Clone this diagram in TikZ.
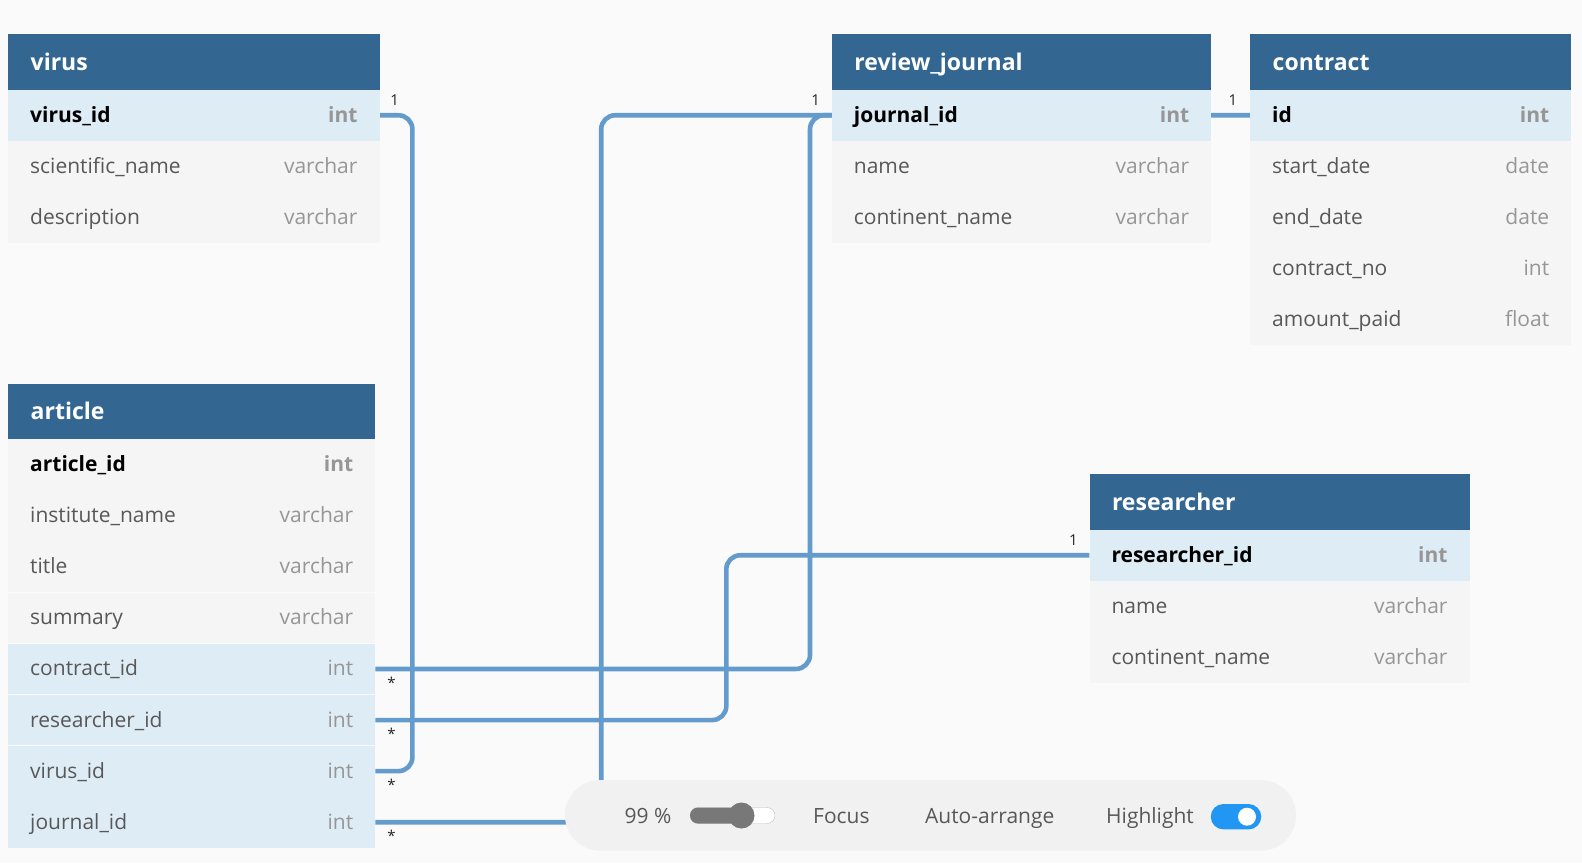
\documentclass[tikz,border=0pt]{standalone}
\usepackage{fontspec}
\setmainfont{Open Sans}
\usepackage{xcolor}
\usetikzlibrary{positioning,calc}

\definecolor{canvas}{RGB}{250,250,250}
\definecolor{headblue}{RGB}{51,103,145}
\definecolor{pkfill}{RGB}{222,236,245}
\definecolor{rowfill}{RGB}{245,245,245}
\definecolor{fieldgray}{RGB}{88,88,88}
\definecolor{typegray}{RGB}{150,150,150}
\definecolor{linkblue}{RGB}{99,156,204}
\definecolor{barfill}{RGB}{241,241,241}
\definecolor{knobgray}{RGB}{120,120,120}
\definecolor{toggleblue}{RGB}{33,150,243}

\pgfdeclarelayer{bg}
\pgfdeclarelayer{links}
\pgfsetlayers{bg,links,main}

\begin{document}
\begin{tikzpicture}[x=1pt,y=1pt,yscale=-1,xscale=1,
  head/.style={anchor=north west, fill=headblue, text=white, minimum height=55.3pt, inner xsep=22.5pt, inner ysep=0pt, text width=#1, text height=20pt, text depth=3.5pt, font=\fontsize{23}{26}\selectfont\bfseries},
  row/.style={anchor=north, fill=rowfill, text=fieldgray, minimum height=50.7pt, inner xsep=22pt, inner ysep=0pt, text width=#1, text height=18pt, text depth=4pt, font=\fontsize{21}{24}\selectfont},
  pkrow/.style={row=#1, fill=pkfill, text=black, font=\fontsize{21}{24}\selectfont\bfseries},
  keyrow/.style={row=#1, font=\fontsize{21}{24}\selectfont\bfseries, text=black},
  fkrow/.style={row=#1, fill=pkfill},
  link/.style={draw=linkblue, line width=4.6pt, rounded corners=14pt},
  card/.style={text=black!85, inner sep=0.75pt, font=\fontsize{15}{17}\selectfont},
  bartext/.style={text=fieldgray, inner sep=0.75pt, text height=17pt, text depth=3pt, font=\fontsize{21}{24}\selectfont}]
%set diagram to the size of the screenshot
\useasboundingbox (0,0) rectangle (1582,863);
\begin{pgfonlayer}{bg}
\fill[canvas] (0,0) rectangle (1582,863);
\end{pgfonlayer}

% virus
\node[head=326.3pt] (virus) at (8,34) {virus};
\node[pkrow=327.3pt, below=0pt of virus] (virus-id) {virus\_id\hfill\textcolor{typegray}{int}};
\node[row=327.3pt, below=0pt of virus-id] (virus-sci) {scientific\_name\hfill\textcolor{typegray}{varchar}};
\node[row=327.3pt, below=0pt of virus-sci] (virus-desc) {description\hfill\textcolor{typegray}{varchar}};

% review_journal
\node[head=334.3pt] (review) at (831.7,34) {review\_journal};
\node[pkrow=335.3pt, below=0pt of review] (review-id) {journal\_id\hfill\textcolor{typegray}{int}};
\node[row=335.3pt, below=0pt of review-id] (review-name) {name\hfill\textcolor{typegray}{varchar}};
\node[row=335.3pt, below=0pt of review-name] (review-cont) {continent\_name\hfill\textcolor{typegray}{varchar}};

% contract
\node[head=276pt] (contract) at (1250,34) {contract};
\node[pkrow=277pt, below=0pt of contract] (contract-id) {id\hfill\textcolor{typegray}{int}};
\node[row=277pt, below=0pt of contract-id] (contract-start) {start\_date\hfill\textcolor{typegray}{date}};
\node[row=277pt, below=0pt of contract-start] (contract-end) {end\_date\hfill\textcolor{typegray}{date}};
\node[row=277pt, below=0pt of contract-end] (contract-no) {contract\_no\hfill\textcolor{typegray}{int}};
\node[row=277pt, below=0pt of contract-no] (contract-paid) {amount\_paid\hfill\textcolor{typegray}{float}};

% article
\node[head=322pt] (article) at (8,383.3) {article};
\node[keyrow=323pt, below=0pt of article] (article-id) {article\_id\hfill\textcolor{typegray}{int}};
\node[row=323pt, below=0pt of article-id] (article-inst) {institute\_name\hfill\textcolor{typegray}{varchar}};
\node[row=323pt, below=0pt of article-inst] (article-title) {title\hfill\textcolor{typegray}{varchar}};
\node[row=323pt, below=0pt of article-title] (article-sum) {summary\hfill\textcolor{typegray}{varchar}};
\node[fkrow=323pt, below=0pt of article-sum] (article-contract) {contract\_id\hfill\textcolor{typegray}{int}};
\node[fkrow=323pt, below=0pt of article-contract] (article-res) {researcher\_id\hfill\textcolor{typegray}{int}};
\node[fkrow=323pt, below=0pt of article-res] (article-virus) {virus\_id\hfill\textcolor{typegray}{int}};
\node[fkrow=323pt, below=0pt of article-virus] (article-journal) {journal\_id\hfill\textcolor{typegray}{int}};

% researcher
\node[head=335pt] (researcher) at (1089.3,474) {researcher};
\node[pkrow=336pt, below=0pt of researcher] (researcher-id) {researcher\_id\hfill\textcolor{typegray}{int}};
\node[row=336pt, below=0pt of researcher-id] (researcher-name) {name\hfill\textcolor{typegray}{varchar}};
\node[row=336pt, below=0pt of researcher-name] (researcher-cont) {continent\_name\hfill\textcolor{typegray}{varchar}};

% links
\begin{pgfonlayer}{links}
\draw[link] (virus-id.east) -| ([xshift=37pt]article-virus.east) -- (article-virus.east);
\draw[link] (article-contract.east) -| ([xshift=-440pt]contract-id.west) -- (contract-id.west);
\draw[link] (article-res.east) -| ([xshift=-363pt]researcher-id.west) -- (researcher-id.west);
\draw[link] (article-journal.east) -| ([xshift=-230.5pt]review-id.west) -- (review-id.west);
\end{pgfonlayer}

% cardinality marks
\node[card] (one-virus) at ($(virus-id.east)+(15,-15)$) {1};
\node[card] (one-review) at ($(review-id.west)+(-16,-15)$) {1};
\node[card] (one-contract) at ($(contract-id.west)+(-17,-15)$) {1};
\node[card] (one-researcher) at ($(researcher-id.west)+(-16,-15)$) {1};
\node[card] (many-contract) at ($(article-contract.east)+(16,14)$) {*};
\node[card] (many-res) at ($(article-res.east)+(16,14)$) {*};
\node[card] (many-virus) at ($(article-virus.east)+(16,14)$) {*};
\node[card] (many-journal) at ($(article-journal.east)+(16,14)$) {*};

% toolbar
\node[fill=barfill, rounded corners=35pt, minimum width=731pt, minimum height=70.5pt] (bar) at (930.5,815.3) {};
\node[bartext] (zoom) at (648,816) {99 \%};
\node[draw=black!25, fill=white, rounded corners=8pt, minimum width=85pt, minimum height=16pt, inner sep=0pt] (slider) at (732.5,815.5) {};
\fill[knobgray, rounded corners=8pt] (690,807.5) rectangle (742,823.5);
\node[circle, fill=knobgray, minimum size=26pt, inner sep=0pt] (knob) at (741.5,815.5) {};
\node[bartext] (focus) at (841.4,816) {Focus};
\node[bartext] (arrange) at (989.7,816) {Auto-arrange};
\node[bartext] (highlight) at (1150,816) {Highlight};
\node[fill=toggleblue, rounded corners=12.7pt, minimum width=50.5pt, minimum height=25.4pt, inner sep=0pt] (switch) at (1236,816.7) {};
\node[circle, fill=white, minimum size=18pt, inner sep=0pt] (switch-knob) at (1247,816.7) {};
\end{tikzpicture}
\end{document}
